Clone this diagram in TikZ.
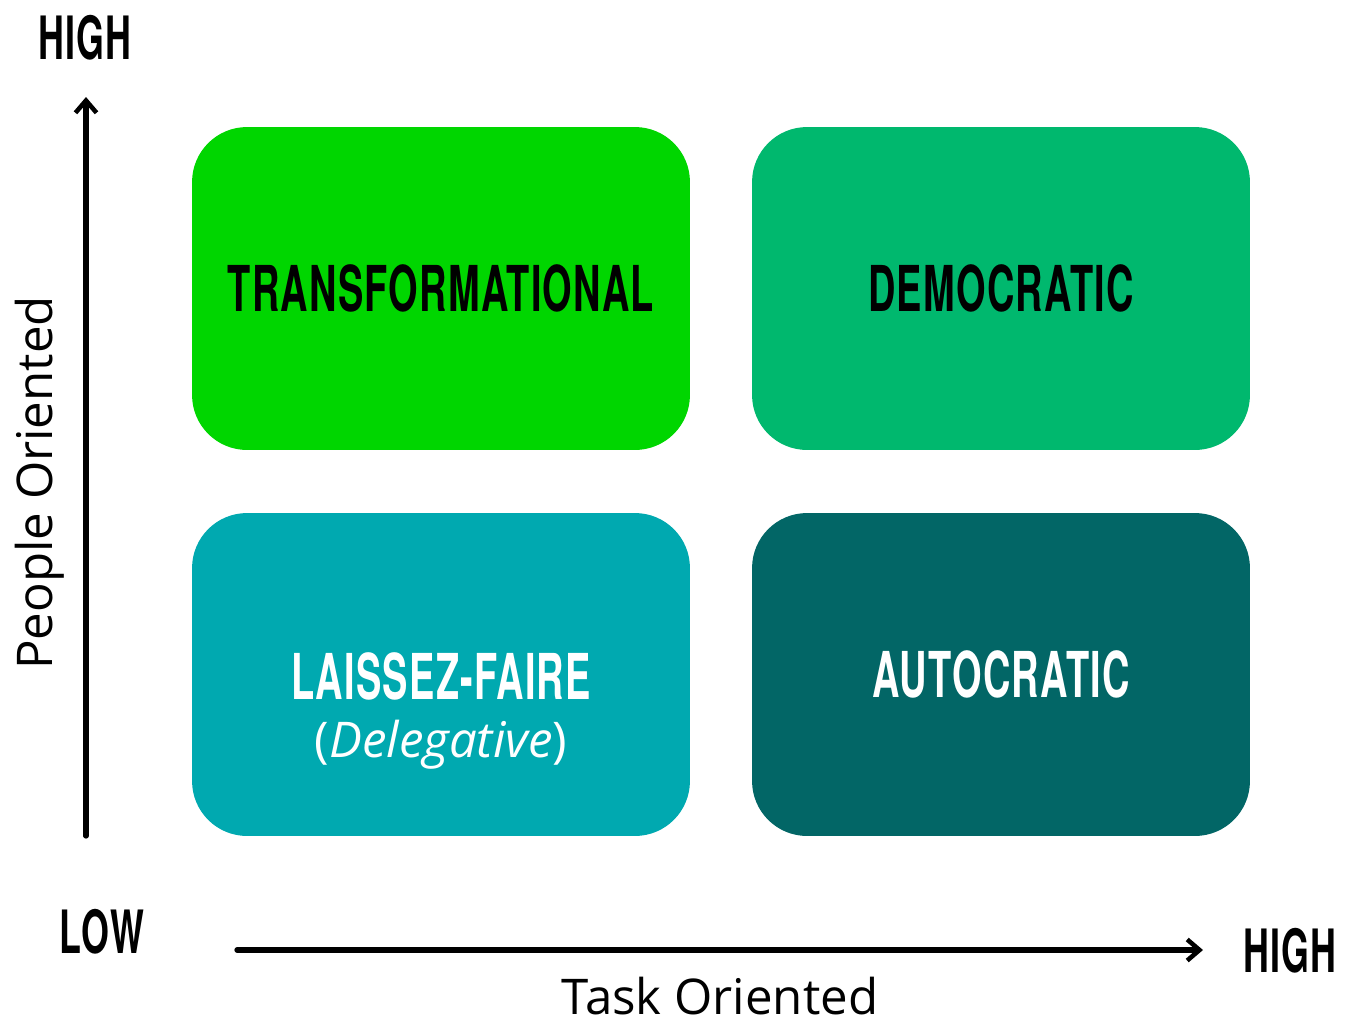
\documentclass[tikz,border=0pt]{standalone}
\usepackage{fontspec}
\usetikzlibrary{arrows.meta}
\setmainfont{Open Sans}
\newfontfamily\capsfont[FakeStretch=0.6,LetterSpace=2]{TeX Gyre Heros}

\definecolor{transgreen}{HTML}{00D600}
\definecolor{demogreen}{HTML}{00B86E}
\definecolor{laissezteal}{HTML}{00A9B0}
\definecolor{autoteal}{HTML}{026666}

\tikzset{
  quadrant/.style={rounded corners=1.1cm, minimum width=9.96cm,
    minimum height=6.46cm, inner sep=0pt},
  stylename/.style={font=\capsfont\bfseries\fontsize{36}{40}\selectfont},
  levelname/.style={font=\capsfont\bfseries\fontsize{34}{38}\selectfont},
  axisname/.style={font=\fontsize{28}{32}\selectfont, inner sep=0pt},
  axisarrow/.style={line width=3pt, line cap=round,
    -{Straight Barb[length=7pt,width=12pt,line width=2.6pt]}}
}

\begin{document}
\begin{tikzpicture}[x=0.02cm, y=-0.02cm]
  \useasboundingbox (0,0) rectangle (1345,1022);

  % Four leadership quadrants
  \node[quadrant, fill=transgreen] (trans) at (441,288.5) {};
  \node[quadrant, fill=demogreen] (demo) at (1001,288.5) {};
  \node[quadrant, fill=laissezteal] (laissez) at (441,674.5) {};
  \node[quadrant, fill=autoteal] (auto) at (1001,674.5) {};

  % Quadrant labels
  \node[stylename] (translbl) at (trans) {TRANSFORMATIONAL};
  \node[stylename] (demolbl) at (demo) {DEMOCRATIC};
  \node[stylename, text=white] (laissezlbl) at (441,676) {LAISSEZ-FAIRE};
  \node[axisname, text=white] (delegative) at (441,745) {(\textit{Delegative})};
  \node[stylename, text=white] (autolbl) at (auto) {AUTOCRATIC};

  % People axis (vertical)
  \coordinate (yfoot) at (86,836);
  \coordinate (ytip) at (86,97);
  \draw[axisarrow] (yfoot) -- (ytip);
  \node[levelname] (yhigh) at (85,38) {HIGH};
  \node[axisname, rotate=90] (peoplelbl) at (40,483) {People Oriented};

  % Task axis (horizontal)
  \coordinate (xfoot) at (237,950);
  \coordinate (xtip) at (1203,950);
  \draw[axisarrow] (xfoot) -- (xtip);
  \node[levelname] (xlow) at (102,932) {LOW};
  \node[levelname] (xhigh) at (1290,951) {HIGH};
  \node[axisname] (tasklbl) at (720,996) {Task Oriented};
\end{tikzpicture}
\end{document}
